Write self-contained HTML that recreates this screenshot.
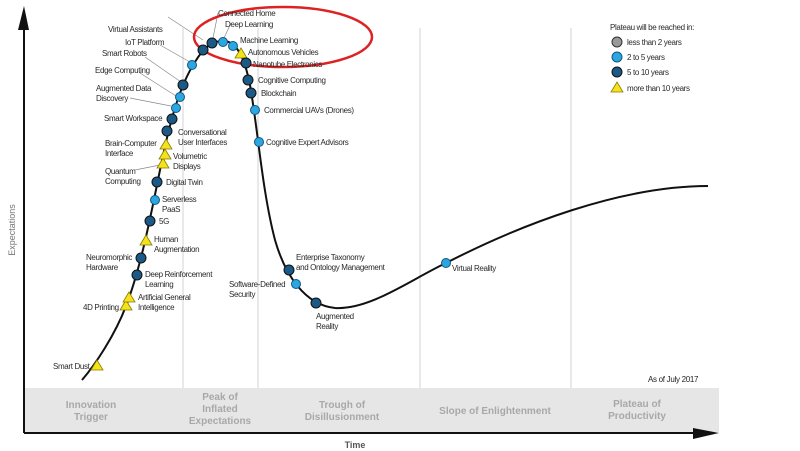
<!DOCTYPE html>
<html><head><meta charset="utf-8"><style>
html,body{margin:0;padding:0;background:#fff;}
svg{display:block;font-family:"Liberation Sans",sans-serif;}
.l{font-size:8px;fill:#2a2a2a;letter-spacing:-0.35px;}
.p{font-size:10px;fill:#a8a8a8;font-weight:bold;text-anchor:middle;}
.d{fill:#1b5a86;stroke:#111;stroke-width:1;}
.b{fill:#2aa6e0;stroke:#15557f;stroke-width:1;}
.t{fill:#f4e21a;stroke:#8a7a00;stroke-width:0.8;}
</style></head><body>
<svg width="800" height="451" viewBox="0 0 800 451">
<rect x="24" y="388" width="695" height="44" fill="#e6e6e6"/>
<g stroke="#e2e2e2" stroke-width="1.5">
<line x1="183" y1="28" x2="183" y2="388"/><line x1="258" y1="28" x2="258" y2="388"/>
<line x1="420" y1="28" x2="420" y2="388"/><line x1="571" y1="28" x2="571" y2="388"/>
</g>
<line x1="24" y1="433" x2="712" y2="433" stroke="#111" stroke-width="2"/>
<polygon points="693,428 719,433 693,439" fill="#111"/>
<line x1="24" y1="433" x2="24" y2="26" stroke="#111" stroke-width="2"/>
<polygon points="18,30 24,6 29,30" fill="#111"/>
<text x="15" y="230" transform="rotate(-90 15 230)" font-size="9" fill="#777" text-anchor="middle">Expectations</text>
<text x="355" y="448" font-size="9" fill="#555" text-anchor="middle" font-weight="bold">Time</text>
<text class="p" x="91" y="408">Innovation</text><text class="p" x="91" y="420">Trigger</text>
<text class="p" x="220" y="400">Peak of</text><text class="p" x="220" y="412">Inflated</text><text class="p" x="220" y="424">Expectations</text>
<text class="p" x="342" y="408">Trough of</text><text class="p" x="342" y="420">Disillusionment</text>
<text class="p" x="495" y="414">Slope of Enlightenment</text>
<text class="p" x="637" y="407">Plateau of</text><text class="p" x="637" y="419">Productivity</text>
<text x="648" y="382" font-size="8" fill="#222" letter-spacing="-0.3">As of July 2017</text>
<path d="M82,380 C95,365 115,335 126,306 C140,270 150,220 160,170 C170,120 180,85 195,62 C205,45 215,40 225,41 C238,43 245,60 250,85 C258,130 262,190 275,240 C285,275 305,305 335,308 C370,310 410,280 446,263 C520,225 620,186 708,186" fill="none" stroke="#111" stroke-width="2"/>
<g stroke="#888" stroke-width="0.7">
<line x1="168" y1="17" x2="203" y2="40"/><line x1="160" y1="45" x2="190" y2="62"/><line x1="145" y1="57" x2="181" y2="82"/><line x1="140" y1="73" x2="176" y2="96"/><line x1="130" y1="98" x2="171" y2="106"/><line x1="135" y1="170" x2="160" y2="165"/><line x1="218" y1="13" x2="213" y2="38"/><line x1="231" y1="23" x2="224" y2="38"/>
</g>
<ellipse cx="283" cy="37" rx="89" ry="30" fill="none" stroke="#d22" stroke-width="2.5"/>
<g>
<polygon class="t" points="97,360 91,370 103,370"/>
<polygon class="t" points="126,300 120,310 132,310"/><polygon class="t" points="129,292 123,302 135,302"/>
<circle class="d" cx="137" cy="275" r="5"/><circle class="d" cx="141" cy="258" r="5"/>
<polygon class="t" points="146,235 140,245 152,245"/>
<circle class="d" cx="150" cy="221" r="5"/><circle class="b" cx="155" cy="200" r="4.5"/><circle class="d" cx="157" cy="182" r="5"/>
<polygon class="t" points="163,158 157,168 169,168"/><polygon class="t" points="165,149 159,159 171,159"/><polygon class="t" points="166,139 160,149 172,149"/>
<circle class="d" cx="167" cy="131" r="5"/><circle class="d" cx="172" cy="119" r="5"/><circle class="b" cx="176" cy="108" r="4.5"/><circle class="b" cx="180" cy="97" r="4.5"/><circle class="d" cx="183" cy="85" r="5"/><circle class="b" cx="192" cy="65" r="4.5"/><circle class="d" cx="203" cy="50" r="5"/><circle class="d" cx="212" cy="43" r="5"/><circle class="b" cx="223" cy="42" r="4.5"/><circle class="b" cx="233" cy="46" r="4.5"/>
<polygon class="t" points="241,48 235,58 247,58"/>
<circle class="d" cx="246" cy="63" r="5"/><circle class="d" cx="248" cy="80" r="5"/><circle class="d" cx="251" cy="93" r="5"/><circle class="b" cx="255" cy="110" r="4.5"/><circle class="b" cx="259" cy="142" r="4.5"/>
<circle class="d" cx="289" cy="270" r="5"/><circle class="b" cx="296" cy="284" r="4.5"/><circle class="d" cx="316" cy="303" r="5"/><circle class="b" cx="446" cy="263" r="4.5"/>
</g>
<g class="l">
<text x="53" y="369">Smart Dust</text>
<text x="83" y="310">4D Printing</text>
<text x="138" y="300">Artificial General</text><text x="138" y="310">Intelligence</text>
<text x="145" y="277">Deep Reinforcement</text><text x="145" y="287">Learning</text>
<text x="86" y="260">Neuromorphic</text><text x="86" y="270">Hardware</text>
<text x="154" y="242">Human</text><text x="154" y="252">Augmentation</text>
<text x="159" y="224">5G</text>
<text x="162" y="202">Serverless</text><text x="162" y="212">PaaS</text>
<text x="166" y="185">Digital Twin</text>
<text x="105" y="174">Quantum</text><text x="105" y="184">Computing</text>
<text x="173" y="159">Volumetric</text><text x="173" y="169">Displays</text>
<text x="105" y="146">Brain-Computer</text><text x="105" y="156">Interface</text>
<text x="178" y="135">Conversational</text><text x="178" y="145">User Interfaces</text>
<text x="104" y="121">Smart Workspace</text>
<text x="96" y="91">Augmented Data</text><text x="96" y="101">Discovery</text>
<text x="95" y="73">Edge Computing</text>
<text x="102" y="56">Smart Robots</text>
<text x="125" y="45">IoT Platform</text>
<text x="108" y="32">Virtual Assistants</text>
<text x="218" y="16">Connected Home</text>
<text x="225" y="27">Deep Learning</text>
<text x="240" y="43">Machine Learning</text>
<text x="248" y="55">Autonomous Vehicles</text>
<text x="253" y="67">Nanotube Electronics</text>
<text x="258" y="83">Cognitive Computing</text>
<text x="261" y="96">Blockchain</text>
<text x="264" y="113">Commercial UAVs (Drones)</text>
<text x="266" y="145">Cognitive Expert Advisors</text>
<text x="296" y="260">Enterprise Taxonomy</text><text x="296" y="270">and Ontology Management</text>
<text x="229" y="287">Software-Defined</text><text x="229" y="297">Security</text>
<text x="316" y="319">Augmented</text><text x="316" y="329">Reality</text>
<text x="452" y="271">Virtual Reality</text>
</g>
<g class="l">
<text x="610" y="30">Plateau will be reached in:</text>
<circle cx="617" cy="42" r="5" fill="#999" stroke="#333"/><text x="627" y="45">less than 2 years</text>
<circle cx="617" cy="57" r="5" class="b"/><text x="627" y="60">2 to 5 years</text>
<circle cx="617" cy="72" r="5" class="d"/><text x="627" y="75">5 to 10 years</text>
<polygon class="t" points="617,82 611,92 623,92"/><text x="627" y="91">more than 10 years</text>
</g>
</svg>
</body></html>
